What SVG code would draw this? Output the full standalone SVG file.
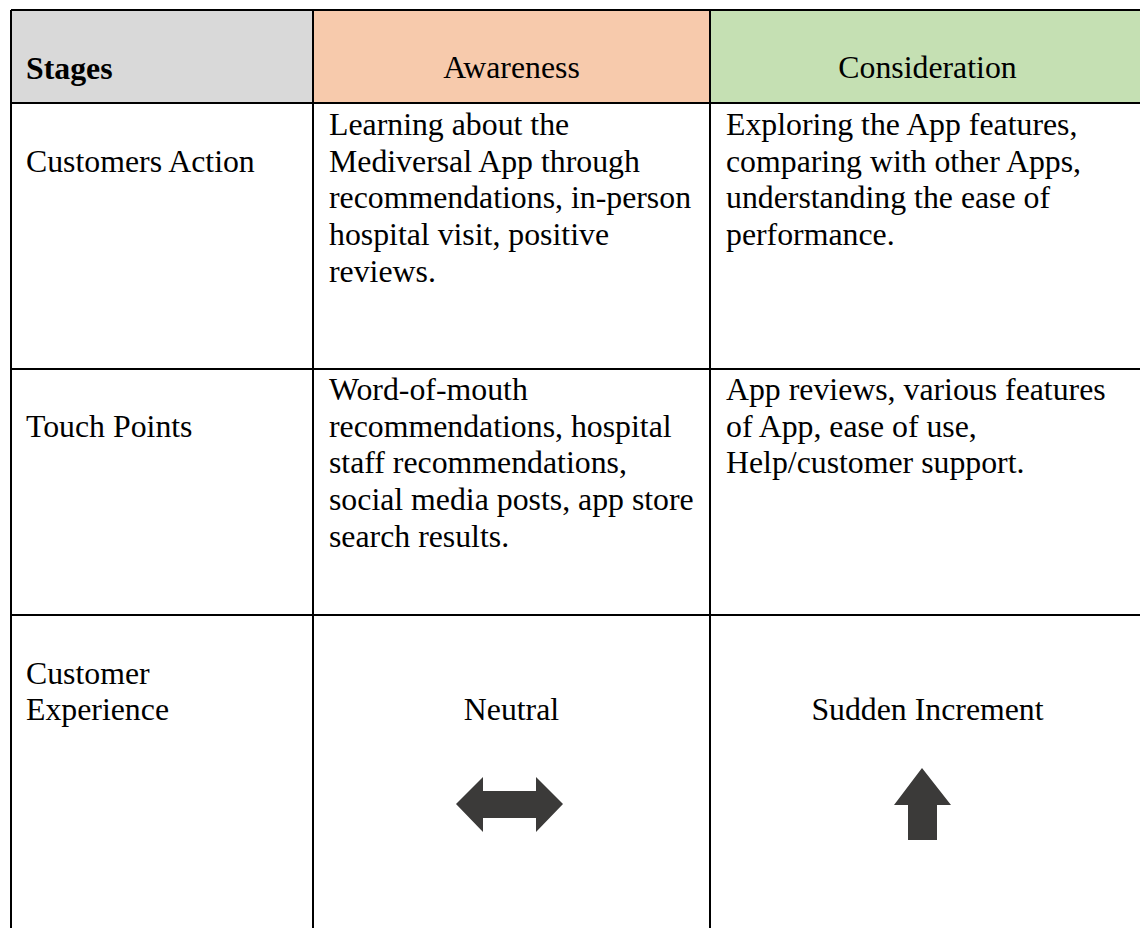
<svg xmlns="http://www.w3.org/2000/svg" width="1140" height="928" viewBox="0 0 1140 928">
  <style>
    .t { font-family: "Liberation Serif", "Times New Roman", serif; font-size: 31.8px; fill: #000; }
    .b { font-weight: bold; }
    .grid { stroke: #000; stroke-width: 2; fill: none; }
    .arrow { fill: #3b3a39; }
  </style>
  <rect width="1140" height="928" fill="#fff"/>

  <!-- header fills -->
  <g id="header">
    <rect x="11" y="10" width="302" height="93" fill="#d9d9d9"/>
    <rect x="313" y="10" width="397" height="93" fill="#f7caac"/>
    <rect x="710" y="10" width="440" height="93" fill="#c5e0b3"/>
    <text class="t b" x="26" y="79">Stages</text>
    <text class="t" x="511.5" y="78" text-anchor="middle">Awareness</text>
    <text class="t" x="927.5" y="78" text-anchor="middle">Consideration</text>
  </g>

  <!-- table rules -->
  <g id="grid" class="grid">
    <line x1="11" y1="10" x2="1150" y2="10"/>
    <line x1="11" y1="103" x2="1150" y2="103"/>
    <line x1="11" y1="369" x2="1150" y2="369"/>
    <line x1="11" y1="615" x2="1150" y2="615"/>
    <line x1="11" y1="10" x2="11" y2="940"/>
    <line x1="313" y1="10" x2="313" y2="940"/>
    <line x1="710" y1="10" x2="710" y2="940"/>
  </g>

  <!-- row: customers action -->
  <g id="row-action">
    <text class="t" x="26" y="172">Customers Action</text>
    <text class="t" x="329">
      <tspan x="329" y="135">Learning about the</tspan>
      <tspan x="329" y="172">Mediversal App through</tspan>
      <tspan x="329" y="208">recommendations, in-person</tspan>
      <tspan x="329" y="245">hospital visit, positive</tspan>
      <tspan x="329" y="282">reviews.</tspan>
    </text>
    <text class="t" x="726">
      <tspan x="726" y="135">Exploring the App features,</tspan>
      <tspan x="726" y="172">comparing with other Apps,</tspan>
      <tspan x="726" y="208">understanding the ease of</tspan>
      <tspan x="726" y="245">performance.</tspan>
    </text>
  </g>

  <!-- row: touch points -->
  <g id="row-touch">
    <text class="t" x="26" y="437">Touch Points</text>
    <text class="t" x="329">
      <tspan x="329" y="400">Word-of-mouth</tspan>
      <tspan x="329" y="437">recommendations, hospital</tspan>
      <tspan x="329" y="473">staff recommendations,</tspan>
      <tspan x="329" y="510">social media posts, app store</tspan>
      <tspan x="329" y="547">search results.</tspan>
    </text>
    <text class="t" x="726">
      <tspan x="726" y="400">App reviews, various features</tspan>
      <tspan x="726" y="437">of App, ease of use,</tspan>
      <tspan x="726" y="473">Help/customer support.</tspan>
    </text>
  </g>

  <!-- row: customer experience -->
  <g id="row-experience">
    <text class="t" x="26">
      <tspan x="26" y="684">Customer</tspan>
      <tspan x="26" y="720">Experience</tspan>
    </text>
    <text class="t" x="511.5" y="720" text-anchor="middle">Neutral</text>
    <text class="t" x="927.5" y="720" text-anchor="middle">Sudden Increment</text>
    <polygon id="arrow-neutral" class="arrow" points="456,804 483,777 483,791 536,791 536,777 563,804 536,832 536,818 483,818 483,832"/>
    <polygon id="arrow-up" class="arrow" points="922,768 951,805 937,805 937,840 908,840 908,805 894,805"/>
  </g>
</svg>
